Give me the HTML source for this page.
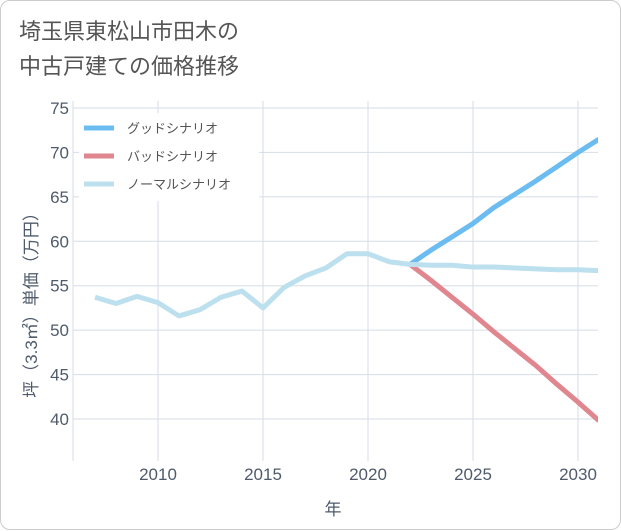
<!DOCTYPE html>
<html><head><meta charset="utf-8">
<style>
body{margin:0;background:#fff;}
.card{position:absolute;left:0;top:0;width:619px;height:528px;border:1px solid #ccc;border-radius:10px;background:#fff;font-family:"Liberation Sans","Noto Sans CJK JP",sans-serif;}
.title{position:absolute;left:18px;top:13px;font-size:22px;line-height:35px;color:#555;}
</style></head><body>
<div class="card">
<div class="title">埼玉県東松山市田木の<br>中古戸建ての価格推移</div>
<svg id="chart" width="621" height="530" style="position:absolute;left:0;top:0"></svg>
</div>
<script>
const years=[2007,2008,2009,2010,2011,2012,2013,2014,2015,2016,2017,2018,2019,2020,2021,2022,2023,2024,2025,2026,2027,2028,2029,2030,2031];
const normalVals=[53.7,53.0,53.8,53.1,51.6,52.3,53.7,54.4,52.5,54.8,56.1,57.0,58.6,58.6,57.7,57.4,57.3,57.3,57.1,57.1,57.0,56.9,56.8,56.8,56.7];
const forecastYears=[2022,2023,2024,2025,2026,2027,2028,2029,2030,2031];
const goodVals=[57.4,59.0,60.5,62.0,63.8,65.3,66.8,68.4,70.0,71.5];
const badVals=[57.4,55.6,53.7,51.8,49.8,47.9,46.0,43.9,41.9,39.8];
const yTicks=[40,45,50,55,60,65,70,75];
const xTicks=[2010,2015,2020,2025,2030];
const legendLabels=["グッドシナリオ","バッドシナリオ","ノーマルシナリオ"];

const NS="http://www.w3.org/2000/svg";
const svg=document.getElementById('chart');
const L=72,R=597,T=100,B=460;
const x=v=>157+(v-2010)*21;
const y=v=>418-(v-40)*(311/35);
function mk(t,a,p){const e=document.createElementNS(NS,t);for(const k in a)e.setAttribute(k,a[k]);(p||svg).appendChild(e);return e;}
const clip=mk('clipPath',{id:'pc'});mk('rect',{x:L,y:T,width:R-L,height:B-T},clip);
yTicks.forEach(v=>{
 const g=mk('line',{x1:L,x2:R,y1:y(v),y2:y(v),stroke:'#d5dde6','stroke-width':1});
 
 
 const t=mk('text',{x:L-4,y:y(v)+6,'text-anchor':'end','font-size':17,fill:'#4f5b6b'});
 t.textContent=v;
 
 
});
xTicks.forEach(v=>{
 const g=mk('line',{x1:x(v),x2:x(v),y1:T,y2:B,stroke:'#d5dde6','stroke-width':1});
 
 
 const t=mk('text',{x:x(v),y:B+19,'text-anchor':'middle','font-size':17,fill:'#4f5b6b'});
 t.textContent=v;
 
 
});
const ax=mk('line',{x1:L,x2:L,y1:T,y2:B,stroke:'#d5dde6'});


function line(xs,vs,color,name){
 const p=mk('polyline',{points:xs.map((d,i)=>x(d)+','+y(vs[i])).join(' '),fill:'none',stroke:color,'stroke-width':5,'stroke-linejoin':'round','clip-path':'url(#pc)'});
 
 
}
line(forecastYears,goodVals,'#6bbcf0','good-scenario-line');
line(forecastYears,badVals,'#e0868f','bad-scenario-line');
line(years,normalVals,'#bde0ee','normal-scenario-line');
const lg=mk('rect',{x:78,y:112,width:180,height:88,fill:'#fff'});


const lc=['#6bbcf0','#e0868f','#bde0ee'];
legendLabels.forEach((s,i)=>{
 const yy=127+i*28;
 const l=mk('line',{x1:83,x2:113,y1:yy,y2:yy,stroke:lc[i],'stroke-width':5});
 
 
 const t=mk('text',{x:126,y:yy+5,'font-size':13,fill:'#555'});
 t.textContent=s;
 
 
});
const yt=mk('text',{x:0,y:0,'text-anchor':'middle','font-size':17,fill:'#4f5b6b',transform:'translate(36,300) rotate(-90)'});
yt.textContent='坪（3.3㎡）単価（万円）';


const xt=mk('text',{x:332,y:514,'text-anchor':'middle','font-size':17,fill:'#4f5b6b'});
xt.textContent='年';


</script>
</body></html>
